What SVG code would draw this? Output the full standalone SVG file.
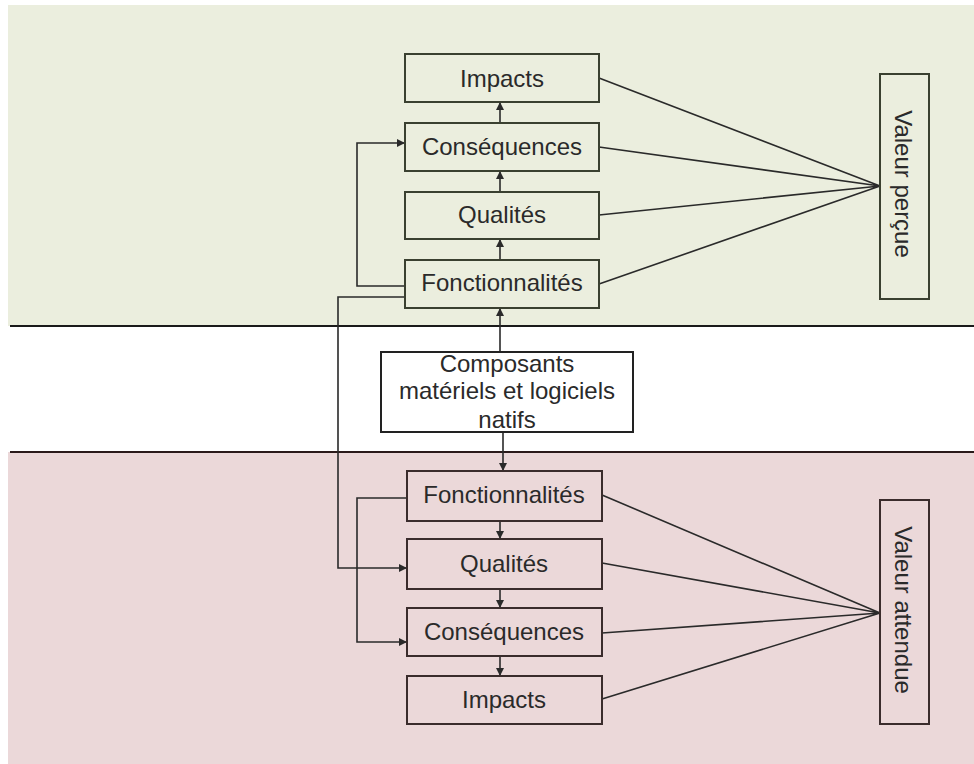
<svg xmlns="http://www.w3.org/2000/svg" width="974" height="764" viewBox="0 0 974 764">
<style>
.t{font-family:"Liberation Sans",Arial,sans-serif;font-size:24px;fill:#2a2a2a;text-anchor:middle}
.bg{fill:#ebeede;stroke:#3a4030;stroke-width:2}
.bp{fill:#ebd8d9;stroke:#3a2c2c;stroke-width:2}
.bw{fill:#ffffff;stroke:#222;stroke-width:2}
.c{fill:none;stroke:#2a2a2a;stroke-width:1.6}
</style>
<defs>
<marker id="a" viewBox="0 0 10 10" refX="10" refY="5" markerWidth="8" markerHeight="8" markerUnits="userSpaceOnUse" orient="auto">
<path d="M0,0 L10,5 L0,10 z" fill="#2a2a2a"/>
</marker>
</defs>
<rect x="8" y="5" width="966" height="321" fill="#ebeede"/>
<rect x="8" y="452" width="966" height="312" fill="#ebd8d9"/>
<line x1="10" y1="326" x2="974" y2="326" stroke="#1a1a1a" stroke-width="2"/>
<line x1="10" y1="452" x2="974" y2="452" stroke="#2a1a1a" stroke-width="2"/>
<g id="connectors">
<path class="c" d="M500,123 V102" marker-end="url(#a)"/>
<path class="c" d="M500,192 V171" marker-end="url(#a)"/>
<path class="c" d="M500,260 V239" marker-end="url(#a)"/>
<path class="c" d="M500,352 V308" marker-end="url(#a)"/>
<path class="c" d="M405,286 H357 V143 H405" marker-end="url(#a)"/>
<path class="c" d="M405,297 H338 V568 H407" marker-end="url(#a)"/>
<path class="c" d="M503,432 V471" marker-end="url(#a)"/>
<path class="c" d="M500,521 V539" marker-end="url(#a)"/>
<path class="c" d="M500,589 V608" marker-end="url(#a)"/>
<path class="c" d="M500,656 V676" marker-end="url(#a)"/>
<path class="c" d="M407,498 H357 V642 H407" marker-end="url(#a)"/>
<path class="c" d="M599,78 L880,186 M599,147 L880,186 M599,215 L880,186 M599,284 L880,186"/>
<path class="c" d="M602,495 L880,613 M602,563 L880,613 M602,633 L880,613 M602,699 L880,613"/>
</g>
<g id="p-impacts"><rect class="bg" x="405" y="54" width="194" height="48"/><text class="t" x="502" y="87">Impacts</text></g>
<g id="p-consequences"><rect class="bg" x="405" y="123" width="194" height="48"/><text class="t" x="502" y="155">Conséquences</text></g>
<g id="p-qualites"><rect class="bg" x="405" y="192" width="194" height="47"/><text class="t" x="502" y="223">Qualités</text></g>
<g id="p-fonctionnalites"><rect class="bg" x="405" y="260" width="194" height="48"/><text class="t" x="502" y="291">Fonctionnalités</text></g>
<g id="composants"><rect class="bw" x="381" y="352" width="252" height="80"/>
<text class="t" x="507" y="372">Composants</text>
<text class="t" x="507" y="399">matériels et logiciels</text>
<text class="t" x="507" y="428">natifs</text></g>
<g id="a-fonctionnalites"><rect class="bp" x="407" y="471" width="195" height="50"/><text class="t" x="504" y="503">Fonctionnalités</text></g>
<g id="a-qualites"><rect class="bp" x="407" y="539" width="195" height="50"/><text class="t" x="504" y="572">Qualités</text></g>
<g id="a-consequences"><rect class="bp" x="407" y="608" width="195" height="48"/><text class="t" x="504" y="640">Conséquences</text></g>
<g id="a-impacts"><rect class="bp" x="407" y="676" width="195" height="48"/><text class="t" x="504" y="708">Impacts</text></g>
<g id="valeur-percue"><rect class="bg" x="880" y="74" width="49" height="225"/><text class="t" font-size="27" transform="translate(895,184) rotate(90)">Valeur perçue</text></g>
<g id="valeur-attendue"><rect class="bp" x="880" y="500" width="49" height="224"/><text class="t" font-size="27" transform="translate(895,610) rotate(90)">Valeur attendue</text></g>
</svg>
